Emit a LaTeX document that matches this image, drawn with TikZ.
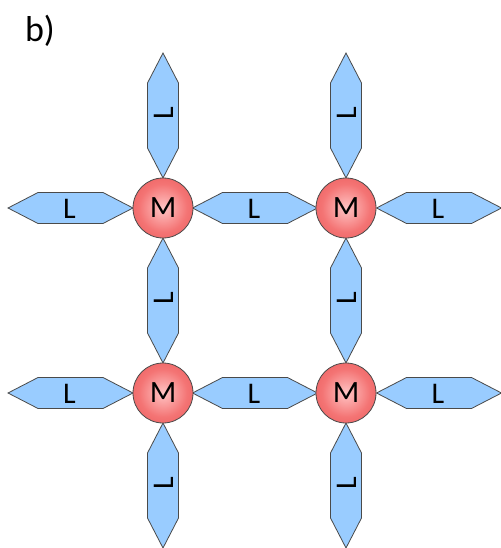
\documentclass[tikz,border=0pt]{standalone}
\usepackage{fontspec}
\setmainfont{Carlito}
\definecolor{ligfill}{HTML}{99CCFF}
\definecolor{ligdraw}{HTML}{4A4A4A}
\definecolor{mcenter}{HTML}{FFC4C4}
\definecolor{mmid}{HTML}{F47474}
\definecolor{medge}{HTML}{E04242}
\pgfdeclareradialshading{mball}{\pgfpoint{0bp}{0bp}}{color(0bp)=(mcenter); color(20bp)=(mmid); color(50bp)=(medge); color(100bp)=(medge)}
\tikzset{
  metal/.style={circle, minimum size=60pt, inner sep=0pt, draw=ligdraw, line width=0.8pt, shading=mball, font=\fontsize{31}{32}\selectfont},
  ltext/.style={inner sep=0pt, font=\fontsize{30}{32}\selectfont},
  ligpath/.style={fill=ligfill, draw=ligdraw, line width=0.8pt, line join=miter},
}
\newcommand{\hlig}[3]{%
  \draw[ligpath] (#1-62.5,#2) -- (#1-32.5,#2-15.5) -- (#1+32.5,#2-15.5) -- (#1+62.5,#2) -- (#1+32.5,#2+15.5) -- (#1-32.5,#2+15.5) -- cycle;
  \node[ltext] (#3) at (#1-1,#2+1) {L};}
\newcommand{\vlig}[3]{%
  \draw[ligpath] (#1,#2-62.5) -- (#1-15.5,#2-32.5) -- (#1-15.5,#2+32.5) -- (#1,#2+62.5) -- (#1+15.5,#2+32.5) -- (#1+15.5,#2-32.5) -- cycle;
  \node[ltext, rotate=90] (#3) at (#1+1,#2-2) {L};}
\begin{document}
\begin{tikzpicture}[x=1pt,y=-1pt]
\useasboundingbox (0,0) rectangle (500,548);
\node[anchor=center, font=\fontsize{36}{38}\selectfont] (lbl) at (40,31) {b)};
% ligands, row 1
\hlig{70.5}{208}{l1}
\hlig{255}{208}{l2}
\hlig{439}{208}{l3}
\hlig{70.5}{393}{l4}
\hlig{255}{393}{l5}
\hlig{439}{393}{l6}
\vlig{163}{115.5}{v1}
\vlig{163}{300.5}{v2}
\vlig{163}{485.5}{v3}
\vlig{346}{115.5}{v4}
\vlig{346}{300.5}{v5}
\vlig{346}{485.5}{v6}
% metals
\node[metal] (m1) at (163,208) {M};
\node[metal] (m2) at (346,208) {M};
\node[metal] (m3) at (163,393) {M};
\node[metal] (m4) at (346,393) {M};
\end{tikzpicture}
\end{document}
